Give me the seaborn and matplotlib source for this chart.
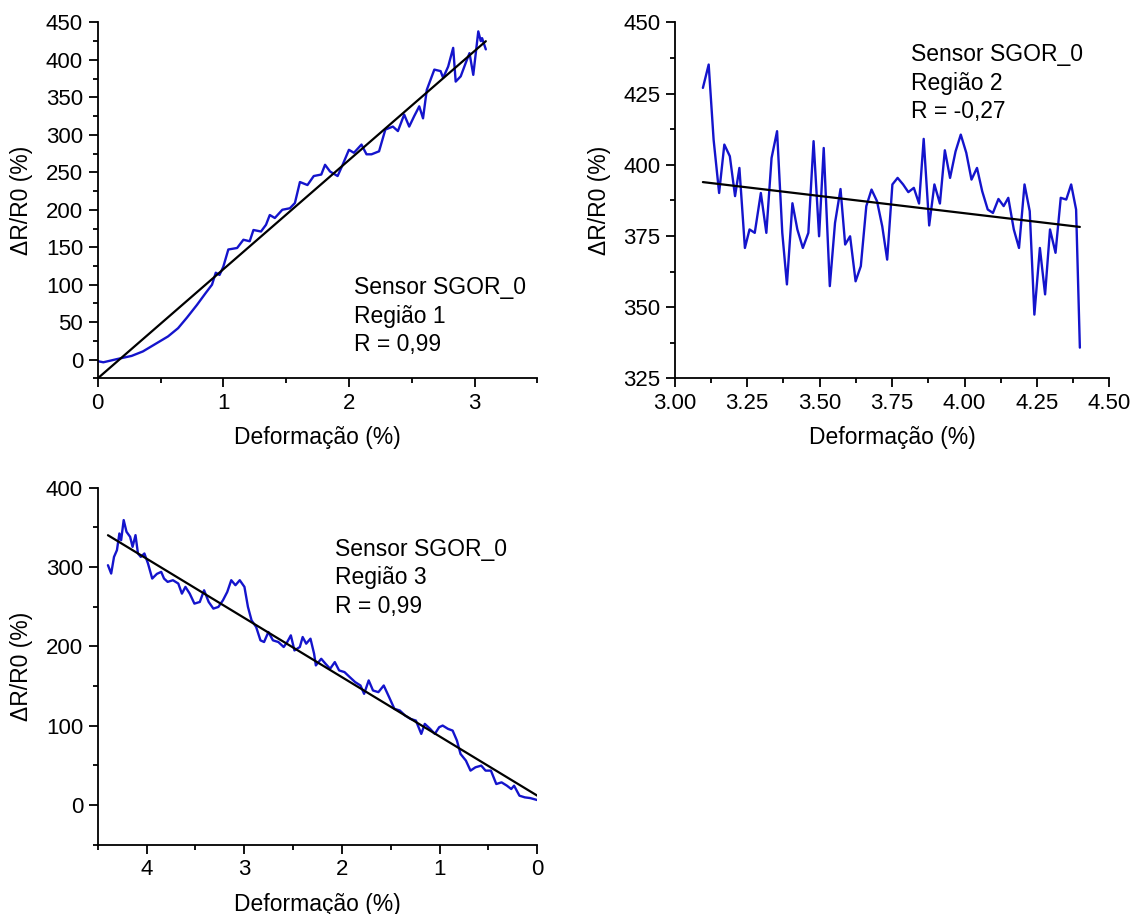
import numpy as np
import pandas as pd
import matplotlib
matplotlib.use('Agg')
import matplotlib.pyplot as plt
import seaborn as sns
from matplotlib.ticker import MultipleLocator, FormatStrFormatter

# --- data ---
# Região 1
x1 = [0.0, 0.045, 0.16, 0.27, 0.36, 0.47, 0.56, 0.64, 0.71, 0.79, 0.86, 0.91, 0.94, 0.97, 1.0,
      1.04, 1.11, 1.16, 1.21, 1.24, 1.30, 1.34, 1.37, 1.41, 1.47, 1.53, 1.57, 1.61, 1.67, 1.72,
      1.78, 1.81, 1.85, 1.91, 1.95, 2.0, 2.04, 2.10, 2.14, 2.18, 2.24, 2.29, 2.35, 2.39, 2.44,
      2.48, 2.52, 2.56, 2.59, 2.62, 2.68, 2.73, 2.75, 2.79, 2.83, 2.85, 2.89, 2.93, 2.96, 2.99,
      3.03, 3.05, 3.06, 3.09]
y1 = [-2, -3.5, 1, 5, 11, 22, 31, 42, 56, 73, 89, 100, 116, 113, 124,
      147, 149, 160, 158, 173, 171, 180, 193, 189, 200, 202, 209, 237, 233, 245,
      247, 260, 251, 245, 260, 280, 276, 287, 274, 274, 278, 307, 311, 305, 327,
      311, 325, 338, 322, 360, 387, 385, 376, 391, 416, 371, 378, 396, 409, 380,
      438, 425, 429, 414]
fit1 = (145.6, -25.0)   # slope, intercept

# Região 2
x2 = [3.097, 3.117, 3.134, 3.153, 3.171, 3.19, 3.208, 3.223, 3.242, 3.258, 3.276, 3.297, 3.316,
      3.334, 3.353, 3.371, 3.387, 3.406, 3.423, 3.442, 3.461, 3.479, 3.498, 3.514, 3.535, 3.553,
      3.572, 3.588, 3.605, 3.624, 3.642, 3.661, 3.679, 3.698, 3.716, 3.733, 3.751, 3.769, 3.788,
      3.806, 3.825, 3.843, 3.859, 3.878, 3.896, 3.915, 3.932, 3.950, 3.969, 3.987, 4.006, 4.024,
      4.043, 4.061, 4.080, 4.098, 4.117, 4.135, 4.151, 4.170, 4.188, 4.207, 4.225, 4.241, 4.260,
      4.278, 4.295, 4.314, 4.332, 4.351, 4.368, 4.385, 4.398]
y2 = [427, 435.2, 408.8, 390.1, 407.1, 403, 389, 398.9, 370.8, 377.3, 376.1, 390.1, 376.1,
      402.4, 411.8, 376.1, 358, 386.5, 377.3, 370.8, 376.1, 408.3, 374.9, 405.9, 357.4, 379.6,
      391.5, 372, 374.9, 359.1, 364.4, 385.5, 391.3, 387.2, 378.4, 366.7, 393.1, 395.4, 393.1,
      390.4, 391.9, 386.4, 409.1, 378.7, 393.1, 386.4, 405.1, 395.4, 404.7, 410.6, 404.2, 394.8,
      398.9, 390.7, 384.3, 383.1, 388, 385.5, 388.4, 377.3, 370.8, 393.1, 383.7, 347.4, 370.8,
      354.5, 377.3, 369.1, 388.4, 387.8, 393.1, 384.3, 335.8]
fit2 = (-12.1, 431.4)

# Região 3
x3 = [4.395, 4.362, 4.333, 4.303, 4.278, 4.26, 4.234, 4.205, 4.168, 4.143, 4.113, 4.088, 4.059,
      4.022, 3.985, 3.942, 3.894, 3.85, 3.821, 3.784, 3.73, 3.675, 3.638, 3.602, 3.558, 3.51,
      3.455, 3.411, 3.364, 3.316, 3.265, 3.218, 3.174, 3.133, 3.09, 3.046, 2.998, 2.962, 2.925,
      2.878, 2.834, 2.797, 2.753, 2.706, 2.651, 2.596, 2.56, 2.523, 2.486, 2.431, 2.402, 2.366,
      2.322, 2.285, 2.267, 2.212, 2.168, 2.121, 2.073, 2.029, 1.974, 1.92, 1.865, 1.81, 1.773,
      1.726, 1.682, 1.627, 1.572, 1.517, 1.463, 1.408, 1.353, 1.298, 1.243, 1.188, 1.152, 1.097,
      1.049, 1.005, 0.969, 0.914, 0.867, 0.823, 0.786, 0.731, 0.684, 0.633, 0.574, 0.53, 0.475,
      0.42, 0.366, 0.311, 0.267, 0.238, 0.183, 0.128, 0.073, 0.0]
y3 = [302.3, 291.8, 312.8, 321.3, 342.3, 333.9, 359.2, 344.4, 338.1, 325.5, 340.2, 317.1, 312.8,
      317.1, 304.4, 285.5, 291.4, 293.9, 285.5, 281.3, 283.4, 279.2, 266.5, 275, 266.5, 253.9,
      256, 270.7, 256, 247.6, 249.7, 258.1, 268.6, 283.4, 277.1, 283.4, 275, 249.7, 232.8,
      224.4, 207.6, 205.5, 218.1, 207.6, 205.5, 199.2, 205.5, 213.9, 194.9, 199.2, 211.8, 203.4,
      209.7, 190.7, 176, 184.4, 178.1, 171.8, 180.2, 169.7, 167.6, 161.3, 155, 150.7, 140.2,
      157.1, 144.4, 142.3, 150.7, 136, 121.3, 119.2, 112.8, 108.6, 106.5, 89.7, 102.3, 96,
      89.7, 98.1, 100.2, 96, 93.9, 81.3, 64.4, 56, 43.4, 47.6, 49.7, 43.4, 43.4,
      26.5, 28.6, 24.4, 20.2, 24.4, 11.8, 9.7, 8.8, 6.3]
fit3 = (74.7, 11.8)

notes = [["Sensor SGOR_0", "Região 1", "R = 0,99"],
         ["Sensor SGOR_0", "Região 2", "R = -0,27"],
         ["Sensor SGOR_0", "Região 3", "R = 0,99"]]

sns.set_style("ticks")
plt.rcParams['font.family'] = ['Liberation Sans', 'DejaVu Sans']
plt.rcParams['axes.linewidth'] = 1.3
for key in ['text.color', 'axes.labelcolor', 'axes.edgecolor', 'xtick.color', 'ytick.color']:
    plt.rcParams[key] = 'black'

blue = '#1414cc'

fig = plt.figure(figsize=(11.36, 9.14), dpi=100)
ax1 = fig.add_axes([0.086, 0.586, 0.387, 0.3895])
ax2 = fig.add_axes([0.594, 0.586, 0.3826, 0.3895])
ax3 = fig.add_axes([0.086, 0.0758, 0.387, 0.3906])


def draw(ax, x, y, fit, note, text_pos):
    df = pd.DataFrame({'x': x, 'y': y})
    sns.lineplot(data=df, x='x', y='y', ax=ax, color=blue, lw=1.7, sort=False, estimator=None)
    xf = np.array([x[0], x[-1]])
    fdf = pd.DataFrame({'x': xf, 'y': fit[0] * xf + fit[1]})
    sns.lineplot(data=fdf, x='x', y='y', ax=ax, color='black', lw=1.6, sort=False, estimator=None)
    tx, ty = text_pos
    for i, s in enumerate(note):
        ax.text(tx, ty[i], s, transform=ax.transAxes, fontsize=16.5, va='baseline', ha='left')
    sns.despine(ax=ax)
    ax.set_xlabel('Deformação (%)', fontsize=16.5, labelpad=9)
    ax.set_ylabel('ΔR/R0 (%)', fontsize=16.5, labelpad=9)
    ax.tick_params(which='major', direction='out', length=6.5, width=1.3, labelsize=16, pad=4)
    ax.tick_params(which='minor', direction='out', length=3.5, width=1.3)


draw(ax1, x1, y1, fit1, notes[0], (0.582, [0.236, 0.156, 0.077]))
ax1.set_xlim(0, 3.5)
ax1.set_ylim(-25, 450)
ax1.xaxis.set_major_locator(MultipleLocator(1))
ax1.xaxis.set_minor_locator(MultipleLocator(0.5))
ax1.yaxis.set_major_locator(MultipleLocator(50))
ax1.yaxis.set_minor_locator(MultipleLocator(25))

draw(ax2, x2, y2, fit2, notes[1], (0.544, [0.891, 0.811, 0.732]))
ax2.set_xlim(3.0, 4.5)
ax2.set_ylim(325, 450)
ax2.xaxis.set_major_locator(MultipleLocator(0.25))
ax2.xaxis.set_minor_locator(MultipleLocator(0.125))
ax2.xaxis.set_major_formatter(FormatStrFormatter('%.2f'))
ax2.yaxis.set_major_locator(MultipleLocator(25))
ax2.yaxis.set_minor_locator(MultipleLocator(12.5))

draw(ax3, x3, y3, fit3, notes[2], (0.539, [0.809, 0.730, 0.648]))
ax3.set_xlim(4.5, 0)
ax3.set_ylim(-50, 400)
ax3.xaxis.set_major_locator(MultipleLocator(1))
ax3.xaxis.set_minor_locator(MultipleLocator(0.5))
ax3.yaxis.set_major_locator(MultipleLocator(100))
ax3.yaxis.set_minor_locator(MultipleLocator(50))

fig.savefig('out.png', dpi=100, facecolor='white')
